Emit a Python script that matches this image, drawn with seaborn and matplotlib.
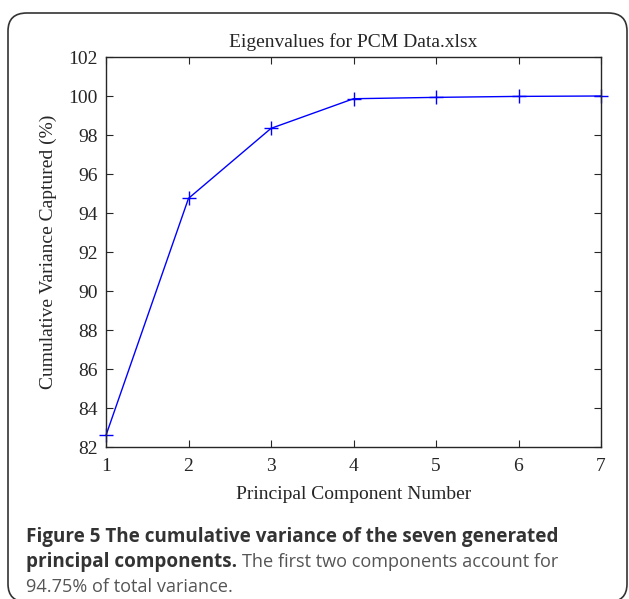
import matplotlib
matplotlib.use('Agg')
import matplotlib.pyplot as plt
from matplotlib.patches import FancyBboxPatch
import pandas as pd
import seaborn as sns

# cumulative variance per principal component
components = [1, 2, 3, 4, 5, 6, 7]
cum_variance = [82.6, 94.75, 98.34, 99.86, 99.93, 99.98, 100.0]

title = 'Eigenvalues for PCM Data.xlsx'
xlabel = 'Principal Component Number'
ylabel = 'Cumulative Variance Captured (%)'

df = pd.DataFrame({'pc': components, 'var': cum_variance})

sns.set_style('ticks')
plt.rcParams['font.family'] = ['Liberation Serif', 'DejaVu Serif']

fig = plt.figure(figsize=(6.29, 5.99), dpi=100)

# rounded frame around the figure panel (bottom edge runs just off the canvas)
frame = FancyBboxPatch((8 / 629, -3 / 599), (627 - 8) / 629, (599 - 13 + 3) / 599,
                       boxstyle='round,pad=0,rounding_size=0.03',
                       transform=fig.transFigure, fill=False,
                       edgecolor='#333333', linewidth=1.2, clip_on=False)
fig.patches.append(frame)

ax = fig.add_axes([106 / 629, 1 - 447 / 599, (601 - 106) / 629, (447 - 57) / 599])
sns.lineplot(data=df, x='pc', y='var', ax=ax, color='#0000ff', marker='+',
             markersize=10, markeredgewidth=1.0, markeredgecolor='#0000ff',
             linewidth=1.0, clip_on=False)

ax.set_xlim(1, 7)
ax.set_ylim(82, 102)
ax.set_xticks(range(1, 8))
ax.set_yticks(range(82, 103, 2))
ax.tick_params(direction='in', top=True, right=True, length=5, width=0.8,
               labelsize=14, pad=6)
ax.tick_params(axis='x', pad=8)
for s in ax.spines.values():
    s.set_linewidth(1.0)
    s.set_visible(True)
ax.set_title(title, fontsize=14, pad=7)
ax.set_xlabel(xlabel, fontsize=14, labelpad=8)
ax.set_ylabel(ylabel, fontsize=14, labelpad=8)

cap_font = ['Open Sans', 'DejaVu Sans']
fig.text(26 / 629, 1 - 537 / 599, 'Figure 5 The cumulative variance of the seven generated',
         fontsize=13.6, fontweight='bold', color='#333333', family=cap_font, va='center')
t = fig.text(26 / 629, 1 - 562 / 599, 'principal components.',
             fontsize=13.6, fontweight='bold', color='#333333', family=cap_font, va='center')
fig.canvas.draw()
bb = t.get_window_extent()
fig.text(bb.x1 / fig.bbox.width + 0.008, 1 - 562 / 599, 'The first two components account for',
         fontsize=13.1, color='#555555', family=cap_font, va='center')
fig.text(26 / 629, 1 - 587 / 599, '94.75% of total variance.',
         fontsize=13.1, color='#555555', family=cap_font, va='center')

fig.savefig('out.png', dpi=100)
